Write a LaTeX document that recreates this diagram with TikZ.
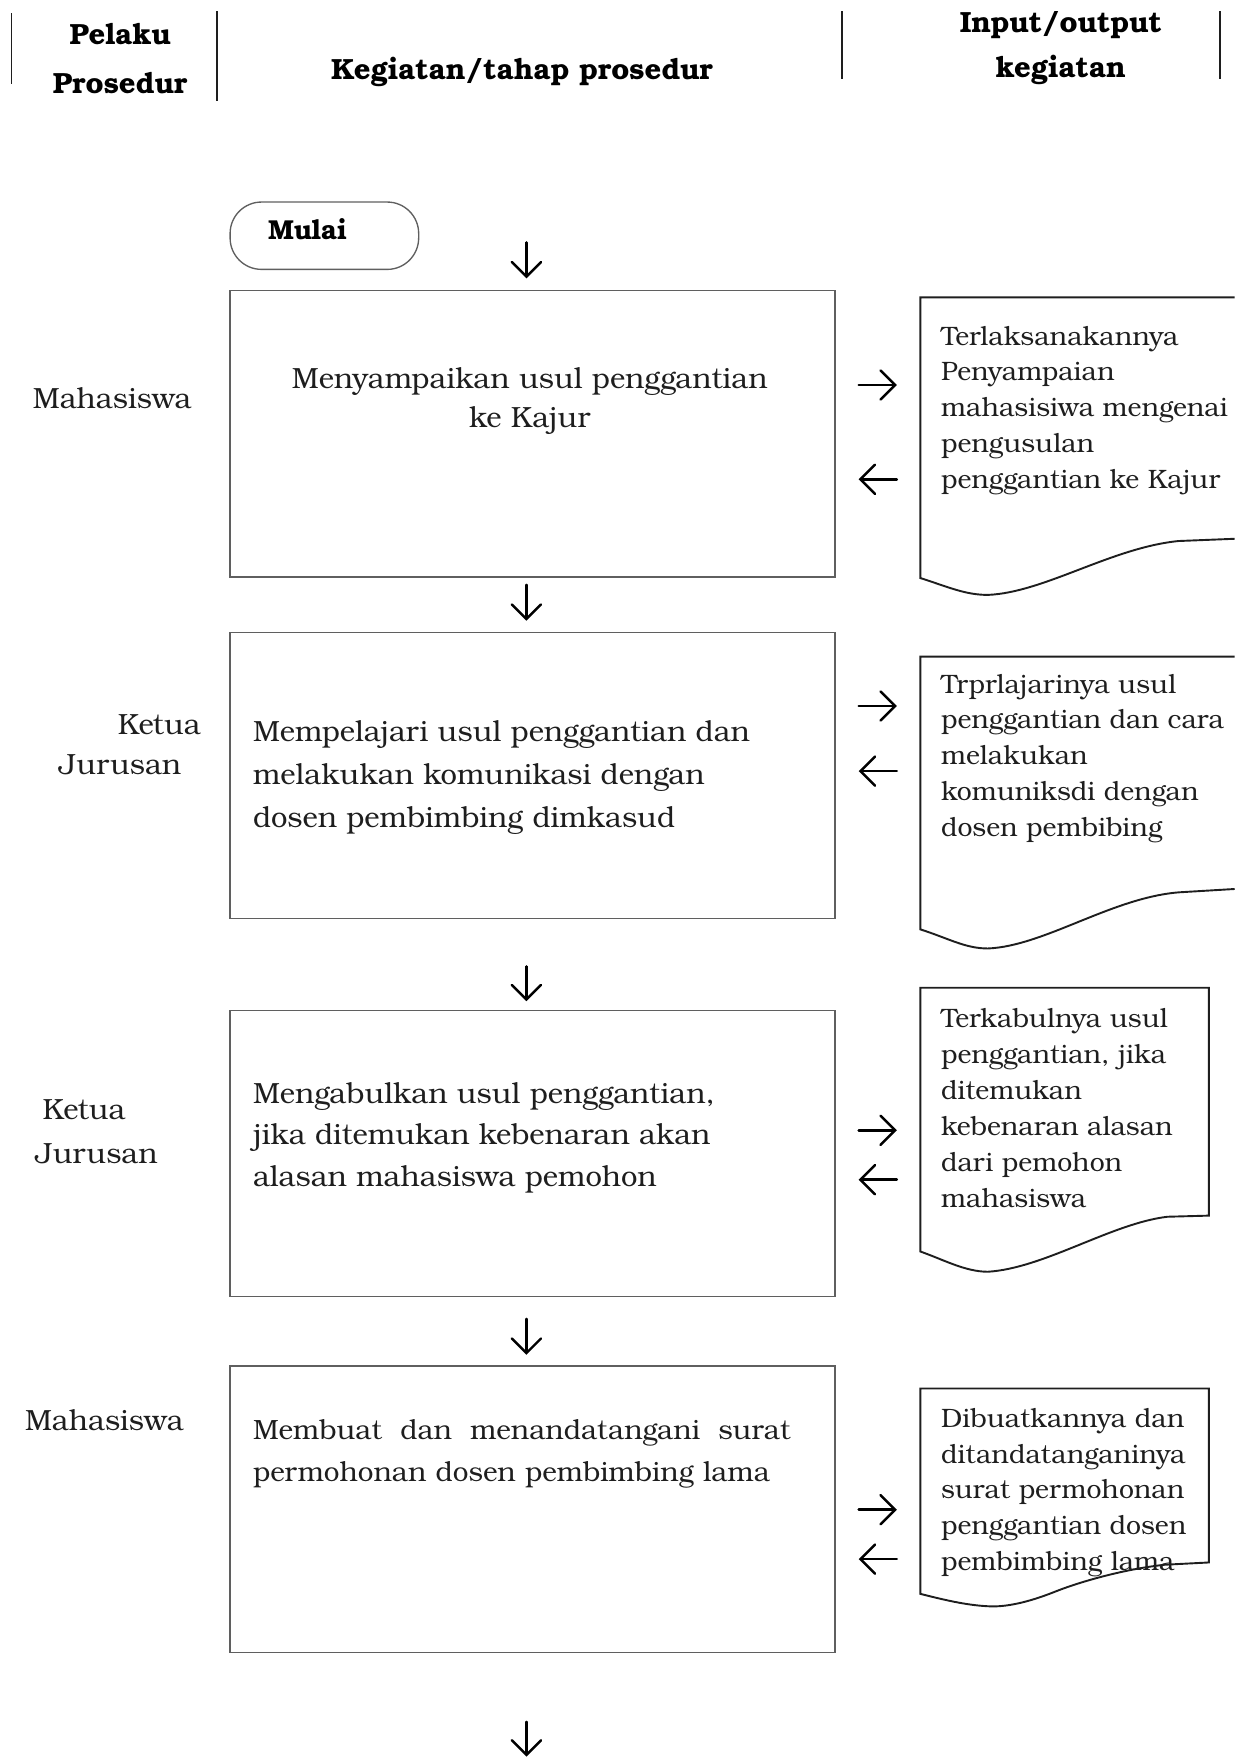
\documentclass[tikz,border=0pt]{standalone}
\usepackage{fontspec}
\setmainfont{TeX Gyre Bonum}
\usetikzlibrary{arrows.meta}
\definecolor{boxgray}{RGB}{95,95,95}
\definecolor{ink}{RGB}{30,30,30}
\tikzset{
 procbox/.style={draw=boxgray, line width=0.6pt, minimum width=269.5pt, minimum height=127.5pt, inner sep=0pt},
 startbox/.style={draw=boxgray, line width=0.6pt, minimum width=84pt, minimum height=30pt, inner sep=0pt, rounded corners=14pt},
 flowarrow/.style={draw=black, line width=1.1pt, line cap=round, -{Straight Barb[length=6.5pt,width=13pt,line cap=round]}},
 docshape/.style={draw=ink, line width=0.85pt},
 protext/.style={font=\fontsize{13}{18.5}\selectfont, text=ink, inner sep=0pt, align=left, anchor=north west},
 doctext/.style={font=\fontsize{11.85}{16}\selectfont, text=ink, inner sep=0pt, align=left, anchor=north west},
 actor/.style={font=\fontsize{13}{16}\selectfont, text=ink, inner sep=0pt},
 head/.style={font=\bfseries\fontsize{13}{16}\selectfont, inner sep=0pt},
 hline/.style={draw=ink, line width=0.6pt},
}
\begin{document}
\begin{tikzpicture}[x=0.5pt,y=-0.5pt]
\useasboundingbox (0,0) rectangle (1100,1568);
% header
\coordinate (v1a) at (10,12); \coordinate (v1b) at (10,75);
\coordinate (v2a) at (193,10); \coordinate (v2b) at (193,90);
\coordinate (v3a) at (750,10); \coordinate (v3b) at (750,70);
\coordinate (v4a) at (1087,10); \coordinate (v4b) at (1087,70);
\draw[hline] (v1a) -- (v1b);
\draw[hline, line width=1pt] (v2a) -- (v2b);
\draw[hline] (v3a) -- (v3b);
\draw[hline] (v4a) -- (v4b);
\node[head] (h1) at (107,30) {Pelaku};
\node[head] (h2) at (107,74) {Prosedur};
\node[head] (h3) at (465,64) {Kegiatan/tahap prosedur};
\node[head] (h4) at (945,22) {Input/output};
\node[head] (h5) at (945,62) {kegiatan};
% start
\node[startbox] (start) at (289,210) {};
\node[head, font=\bfseries\fontsize{12.2}{15}\selectfont] (startlbl) at (274,204) {Mulai};
% process boxes
\node[procbox] (p1) at (474.5,386.5) {};
\node[procbox] (p2) at (474.5,691) {};
\node[procbox] (p3) at (474.5,1027.5) {};
\node[procbox] (p4) at (474.5,1344.5) {};
\node[protext, anchor=north, align=center, font=\fontsize{13}{17.5}\selectfont] (t1) at (472,327) {Menyampaikan usul penggantian\\ke Kajur};
\node[protext, font=\fontsize{13}{19}\selectfont] (t2) at (225,642) {Mempelajari usul penggantian dan\\melakukan komunikasi dengan\\dosen pembimbing dimkasud};
\node[protext] (t3) at (225,964) {Mengabulkan usul penggantian,\\jika ditemukan kebenaran akan\\alasan mahasiswa pemohon};
\node[protext, text width=239.5pt, font=\fontsize{12.4}{19}\selectfont] (t4) at (225,1264) {Membuat\hfill dan\hfill menandatangani\hfill surat\\permohonan dosen pembimbing lama};
% actors
\node[actor] (a1) at (100,355) {Mahasiswa};
\node[actor] (a2a) at (142,646) {Ketua};
\node[actor] (a2b) at (107,681) {Jurusan};
\node[actor] (a3a) at (75,989) {Ketua};
\node[actor] (a3b) at (86,1028) {Jurusan};
\node[actor] (a4) at (93,1265) {Mahasiswa};
% down arrows
\coordinate (d1s) at (469,216); \coordinate (d1e) at (469,248);
\coordinate (d2s) at (469,521); \coordinate (d2e) at (469,553);
\coordinate (d3s) at (469,861); \coordinate (d3e) at (469,892);
\coordinate (d4s) at (469,1175); \coordinate (d4e) at (469,1207);
\coordinate (d5s) at (469,1534); \coordinate (d5e) at (469,1565);
\foreach \i in {1,...,5} {\draw[flowarrow] (d\i s) -- (d\i e);}
% side arrows
\coordinate (r1s) at (765,343); \coordinate (r1e) at (799,343);
\coordinate (l1s) at (799,427); \coordinate (l1e) at (765,427);
\coordinate (r2s) at (765,629); \coordinate (r2e) at (799,629);
\coordinate (l2s) at (799,687); \coordinate (l2e) at (765,687);
\coordinate (r3s) at (765,1007); \coordinate (r3e) at (799,1007);
\coordinate (l3s) at (799,1051); \coordinate (l3e) at (765,1051);
\coordinate (r4s) at (765,1345); \coordinate (r4e) at (799,1345);
\coordinate (l4s) at (799,1389); \coordinate (l4e) at (765,1389);
\foreach \i in {1,...,4} {\draw[flowarrow] (r\i s) -- (r\i e); \draw[flowarrow] (l\i s) -- (l\i e);}
% documents
\draw[docshape] (1100,265) -- (820,265) -- (820,515) .. controls (845,523) and (860,530) .. (880,530) .. controls (930,528) and (990,488) .. (1050,482) -- (1100,480);
\draw[docshape] (1100,585) -- (820,585) -- (820,828) .. controls (845,836) and (860,845) .. (880,845) .. controls (930,843) and (990,800) .. (1050,795) -- (1100,792);
\draw[docshape] (820,880) -- (1077,880) -- (1077,1083) -- (1040,1084) .. controls (990,1090) and (930,1130) .. (880,1133) .. controls (860,1133) and (840,1122) .. (820,1115) -- cycle;
\draw[docshape] (820,1237) -- (1077,1237) -- (1077,1392) -- (1038,1394) .. controls (1000,1398) and (960,1410) .. (940,1418) .. controls (915,1428) and (895,1432) .. (880,1431) .. controls (860,1430) and (840,1425) .. (820,1420) -- cycle;
\node[doctext] (o1) at (838,290) {Terlaksanakannya\\Penyampaian\\mahasisiwa mengenai\\pengusulan\\penggantian ke Kajur};
\node[doctext] (o2) at (838,600) {Trprlajarinya usul\\penggantian dan cara\\melakukan\\komuniksdi dengan\\dosen pembibing};
\node[doctext] (o3) at (838,898) {Terkabulnya usul\\penggantian, jika\\ditemukan\\kebenaran alasan\\dari pemohon\\mahasiswa};
\node[doctext] (o4) at (838,1254) {Dibuatkannya dan\\ditandatanganinya\\surat permohonan\\penggantian dosen\\pembimbing lama};
\end{tikzpicture}
\end{document}
